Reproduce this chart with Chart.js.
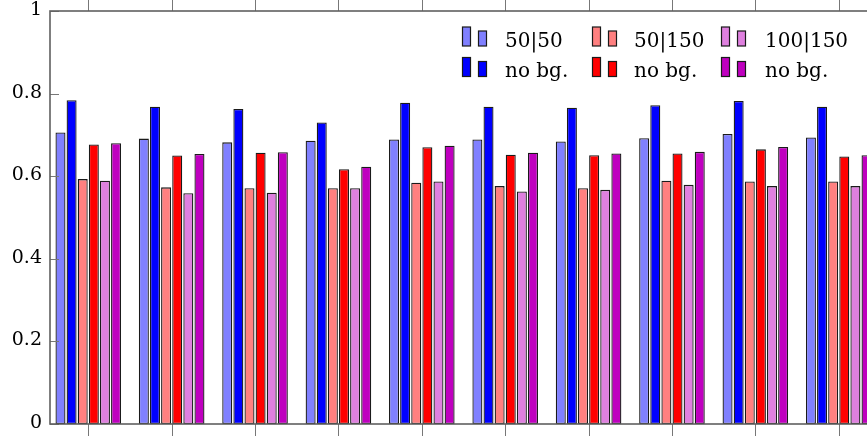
<!DOCTYPE html>
<html>
<head>
<meta charset="utf-8">
<script src="https://cdn.jsdelivr.net/npm/chart.js@4/dist/chart.umd.min.js"></script>
<style>
  html, body { margin: 0; padding: 0; background: #fff; overflow: hidden; }
  #wrap { width: 867px; height: 436px; overflow: hidden; }
</style>
</head>
<body>
<div id="wrap"><canvas id="bars" width="890" height="436"></canvas></div>
<script>
// group positions along x (no labels in the figure)
const groups = [0, 1, 2, 3, 4, 5, 6, 7, 8, 9];

// series values
const s50_50       = [0.706, 0.691, 0.682, 0.686, 0.689, 0.689, 0.684, 0.692, 0.702, 0.694];
const s50_50_nobg  = [0.784, 0.768, 0.763, 0.730, 0.778, 0.768, 0.766, 0.772, 0.782, 0.768];
const s50_150      = [0.593, 0.573, 0.571, 0.571, 0.584, 0.576, 0.571, 0.589, 0.587, 0.587];
const s50_150_nobg = [0.677, 0.650, 0.657, 0.617, 0.670, 0.652, 0.651, 0.655, 0.665, 0.648];
const s100_150      = [0.589, 0.559, 0.560, 0.571, 0.587, 0.563, 0.567, 0.579, 0.576, 0.576];
const s100_150_nobg = [0.680, 0.654, 0.658, 0.623, 0.674, 0.657, 0.655, 0.659, 0.671, 0.651];

const seriesLabels = ["50|50", "no bg.", "50|150", "no bg.", "100|150", "no bg."];
const yTicks = [0, 0.2, 0.4, 0.6, 0.8, 1];
const yTickLabels = ["0", "0.2", "0.4", "0.6", "0.8", "1"];

const colours = ["#8080ff", "#0000ff", "#ff8080", "#ff0000", "#df80df", "#bf00bf"];
const fontFamily = "'DejaVu Serif', serif";

const allSeries = [s50_50, s50_50_nobg, s50_150, s50_150_nobg, s100_150, s100_150_nobg];

const datasets = allSeries.map((vals, k) => ({
    label: seriesLabels[k],
    data: groups.map((g, i) => ({ x: g, y: vals[i] })),
    backgroundColor: colours[k],
    borderColor: "#1a1a1a",
    borderWidth: 1.3,
    borderSkipped: false,
    categoryPercentage: 0.8,
    barPercentage: 0.9
}));

// axis box, tick marks, tick labels and legend drawn like the pgfplots original
const frame = {
    id: "frame",
    afterDatasetsDraw(chart) {
        const ctx = chart.ctx;
        const a = chart.chartArea;
        const xs = chart.scales.x, ys = chart.scales.y;
        ctx.save();

        // tick marks
        ctx.strokeStyle = "#777";
        ctx.lineWidth = 1;
        ctx.beginPath();
        groups.forEach(g => {
            const px = Math.round(xs.getPixelForValue(g)) + 0.5;
            ctx.moveTo(px, a.bottom); ctx.lineTo(px, a.bottom + 14);
            ctx.moveTo(px, a.top); ctx.lineTo(px, a.top - 14);
        });
        yTicks.forEach(v => {
            const py = Math.round(ys.getPixelForValue(v)) + 0.5;
            ctx.moveTo(a.left, py); ctx.lineTo(a.left + 9, py);
            ctx.moveTo(a.right, py); ctx.lineTo(a.right - 9, py);
        });
        ctx.stroke();

        // axis box
        ctx.strokeStyle = "#606060";
        ctx.lineWidth = 1.6;
        ctx.strokeRect(a.left, a.top, a.right - a.left, a.bottom - a.top);

        // y tick labels
        ctx.fillStyle = "#000";
        ctx.font = "19px " + fontFamily;
        ctx.textAlign = "right";
        ctx.textBaseline = "middle";
        yTicks.forEach((v, i) => {
            ctx.fillText(yTickLabels[i], a.left - 8, ys.getPixelForValue(v) - 1);
        });

        // legend: two little bars per entry, 3 columns x 2 rows
        const cols = [462, 592, 721];
        const textX = [505, 634, 765];
        const baselines = [46.5, 77];
        const order = [[0, 2, 4], [1, 3, 5]];
        ctx.font = "20px " + fontFamily;
        ctx.textBaseline = "alphabetic";
        ctx.textAlign = "left";
        order.forEach((row, r) => {
            row.forEach((di, c) => {
                const ds = chart.data.datasets[di];
                const b = baselines[r];
                ctx.fillStyle = ds.backgroundColor;
                ctx.strokeStyle = "#1a1a1a";
                ctx.lineWidth = 1.2;
                ctx.fillRect(cols[c] + 0.5, b - 19.5, 8, 19);
                ctx.strokeRect(cols[c] + 0.5, b - 19.5, 8, 19);
                ctx.fillRect(cols[c] + 16.5, b - 15.5, 8, 15);
                ctx.strokeRect(cols[c] + 16.5, b - 15.5, 8, 15);
                ctx.fillStyle = "#000";
                ctx.fillText(ds.label, textX[c], b);
            });
        });
        ctx.restore();
    }
};

const config = {
    type: "bar",
    data: { datasets: datasets },
    options: {
        responsive: false,
        animation: false,
        devicePixelRatio: 1,
        layout: { padding: { top: 11, right: 13, left: 0, bottom: 0 } },
        plugins: { legend: { display: false }, tooltip: { enabled: false } },
        scales: {
            x: {
                type: "linear",
                offset: false,
                min: -0.459,
                max: 9.459,
                grid: { display: false, drawTicks: false, offset: false },
                border: { display: false },
                ticks: { display: false },
                afterFit: scale => { scale.height = 12; }
            },
            y: {
                min: 0,
                max: 1,
                grid: { display: false, drawTicks: false },
                border: { display: false },
                afterBuildTicks: scale => { scale.ticks = yTicks.map(v => ({ value: v })); },
                ticks: { display: false },
                afterFit: scale => { scale.width = 50; }
            }
        }
    },
    plugins: [frame]
};

new Chart(document.getElementById("bars").getContext("2d"), config);
</script>
</body>
</html>
